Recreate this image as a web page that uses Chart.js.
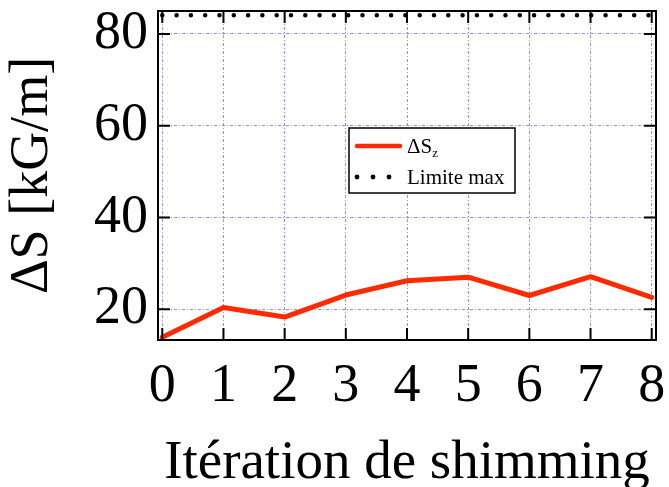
<!DOCTYPE html>
<html>
<head>
<meta charset="utf-8">
<script src="https://cdn.jsdelivr.net/npm/chart.js@4/dist/chart.umd.min.js"></script>
<style>
html,body{margin:0;padding:0;background:#fff;}
#wrap{width:669px;height:487px;}
</style>
</head>
<body>
<div id="wrap"><canvas id="c" width="669" height="487"></canvas></div>
<script>
const iterations = [0, 1, 2, 3, 4, 5, 6, 7, 8];
const deltaSz = [13.9, 20.4, 18.3, 23.1, 26.2, 27.0, 23.0, 27.1, 22.6];
const limiteMax = [84.1, 84.1, 84.1, 84.1, 84.1, 84.1, 84.1, 84.1, 84.1];
const yTickLabels = [20, 40, 60, 80];
const xTickLabels = ['0', '1', '2', '3', '4', '5', '6', '7', '8'];

const FONT = "'Liberation Serif', 'Times New Roman', serif";
const GRID = 'rgba(125,125,245,0.85)';

function zeroPad(s) { s.paddingTop = 0; s.paddingBottom = 0; s.paddingLeft = 0; s.paddingRight = 0; }

const framePlugin = {
  id: 'frame',
  afterDatasetsDraw(chart) {
    const ctx = chart.ctx;
    const a = chart.chartArea;
    const xs = chart.scales.x, ys = chart.scales.y;
    ctx.save();
    ctx.strokeStyle = '#000';
    ctx.lineWidth = 2;
    ctx.setLineDash([]);
    xs.ticks.forEach(t => {
      const px = xs.getPixelForValue(t.value);
      ctx.beginPath();
      ctx.moveTo(px, a.bottom); ctx.lineTo(px, a.bottom - 12);
      ctx.moveTo(px, a.top); ctx.lineTo(px, a.top + 12);
      ctx.stroke();
    });
    ys.ticks.forEach(t => {
      const py = ys.getPixelForValue(t.value);
      const len = yTickLabels.includes(t.value) ? 12 : 6;
      ctx.beginPath();
      ctx.moveTo(a.left, py); ctx.lineTo(a.left + len, py);
      ctx.moveTo(a.right, py); ctx.lineTo(a.right - len, py);
      ctx.stroke();
    });
    ctx.strokeRect(a.left, a.top, a.right - a.left, a.bottom - a.top);
    ctx.restore();
  },
  afterDraw(chart) {
    const ctx = chart.ctx;
    const ds = chart.data.datasets;
    const bx = 349, by = 128, bw = 166, bh = 65;
    ctx.save();
    ctx.fillStyle = '#fff';
    ctx.fillRect(bx, by, bw, bh);
    ctx.strokeStyle = '#000';
    ctx.lineWidth = 1.5;
    ctx.strokeRect(bx, by, bw, bh);
    ctx.strokeStyle = ds[0].borderColor;
    ctx.lineWidth = 4.5;
    ctx.lineCap = 'round';
    ctx.beginPath(); ctx.moveTo(357, 146); ctx.lineTo(400, 146); ctx.stroke();
    ctx.fillStyle = '#000';
    [357, 373, 389].forEach(x => { ctx.beginPath(); ctx.arc(x, 177, 2.4, 0, Math.PI * 2); ctx.fill(); });
    ctx.textBaseline = 'alphabetic';
    ctx.font = '21px ' + FONT;
    ctx.fillText('\u0394S', 407, 153);
    const w = ctx.measureText('\u0394S').width;
    ctx.font = '13px ' + FONT;
    ctx.fillText('z', 407 + w, 157);
    ctx.font = '21px ' + FONT;
    ctx.fillText(ds[1].label, 407, 184);
    ctx.restore();
  }
};

new Chart(document.getElementById('c'), {
  type: 'line',
  data: {
    labels: iterations,
    datasets: [
      {
        label: '\u0394Sz',
        data: iterations.map((x, i) => ({x: x, y: deltaSz[i]})),
        borderColor: '#ff2a00',
        borderWidth: 5,
        pointRadius: 0,
        tension: 0,
        borderJoinStyle: 'round',
        borderCapStyle: 'round',
        clip: false
      },
      {
        label: 'Limite max',
        data: iterations.map((x, i) => ({x: x, y: limiteMax[i]})),
        borderColor: '#000',
        borderWidth: 4.5,
        borderDash: [0, 14.3],
        borderCapStyle: 'round',
        pointRadius: 0,
        tension: 0,
        clip: false
      }
    ]
  },
  plugins: [framePlugin],
  options: {
    responsive: false,
    animation: false,
    events: [],
    layout: { padding: { top: 11, right: 13, left: 0, bottom: 0 } },
    plugins: { legend: { display: false }, tooltip: { enabled: false } },
    scales: {
      x: {
        type: 'linear',
        min: -0.07,
        max: 8.07,
        afterFit(s) { s.height = 147; zeroPad(s); },
        ticks: {
          stepSize: 1,
          includeBounds: false,
          autoSkip: false,
          maxRotation: 0,
          color: '#000',
          padding: 14,
          font: { family: FONT, size: 54 },
          callback: (v) => Number.isInteger(v) ? xTickLabels[v] : ''
        },
        grid: { color: GRID, lineWidth: 1, drawTicks: false },
        border: { display: false, dash: [3, 2, 1, 2] },
        title: {
          display: true,
          text: 'Itération de shimming',
          color: '#000',
          font: { family: FONT, size: 55 },
          padding: { top: 0, bottom: -10 }
        }
      },
      y: {
        type: 'linear',
        min: 13.3,
        max: 85,
        afterFit(s) { s.width = 158; zeroPad(s); },
        ticks: {
          stepSize: 10,
          includeBounds: false,
          color: '#000',
          padding: 10,
          font: { family: FONT, size: 54 },
          callback: (v) => yTickLabels.includes(v) ? String(v) : ''
        },
        grid: { color: GRID, lineWidth: 1, drawTicks: false },
        border: { display: false, dash: [3, 2, 1, 2] },
        title: {
          display: true,
          text: '\u0394S [kG/m]',
          color: '#000',
          font: { family: FONT, size: 54 },
          padding: { top: 0, bottom: 0 }
        }
      }
    }
  }
});
</script>
</body>
</html>
